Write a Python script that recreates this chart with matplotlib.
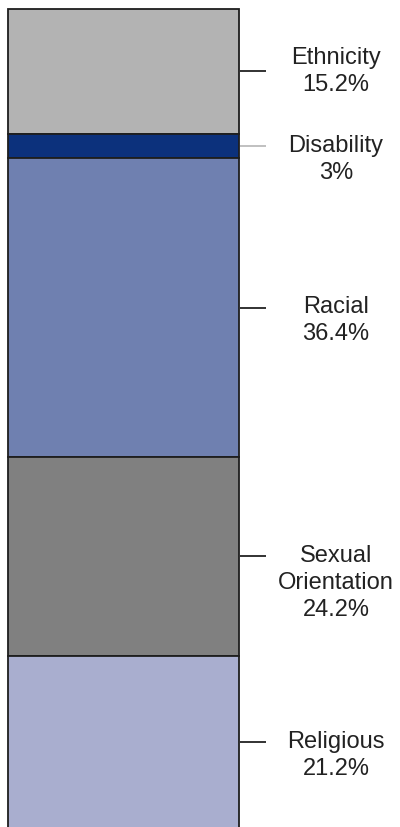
import matplotlib
matplotlib.use("Agg")
import matplotlib.pyplot as plt
import numpy as np

categories = ["Ethnicity", "Disability", "Racial", "Sexual\nOrientation", "Religious"]
values = [15.2, 3, 36.4, 24.2, 21.2]
colors = ["#b3b3b3", "#0c317c", "#6f80b0", "#808080", "#a9aecf"]
leader_colors = ["#222222", "#bbbbbb", "#222222", "#222222", "#222222"]

plt.rcParams['font.family'] = ['Liberation Sans', 'DejaVu Sans']

fig = plt.figure(figsize=(4.0, 8.27), dpi=100)
ax = fig.add_axes([0, 0, 1, 1])
ax.set_xlim(0, 400)
ax.set_ylim(99.7, -1.1)
ax.axis("off")

vals = np.array(values)
bottoms = np.concatenate([[0], np.cumsum(vals)[:-1]])
ax.bar(123.5, vals, width=231, bottom=bottoms, color=colors,
       edgecolor="#1e1e1e", linewidth=1.3, align="center")

mids = bottoms + vals / 2
for i, (cat, v, m) in enumerate(zip(categories, values, mids)):
    ax.plot([240, 266], [m, m], color=leader_colors[i], lw=1.3, solid_capstyle="butt")
    label = f"{cat}\n{v:g}%"
    if i == 0:
        ax.text(336, m, label, ha="center", va="center", fontsize=17,
                color="#222222", linespacing=1.3)
    else:
        # first line aligned with leader
        ax.text(336, m - 1.4, label, ha="center", va="top", fontsize=17,
                color="#222222", linespacing=1.3)

fig.savefig("out.png", dpi=100)
